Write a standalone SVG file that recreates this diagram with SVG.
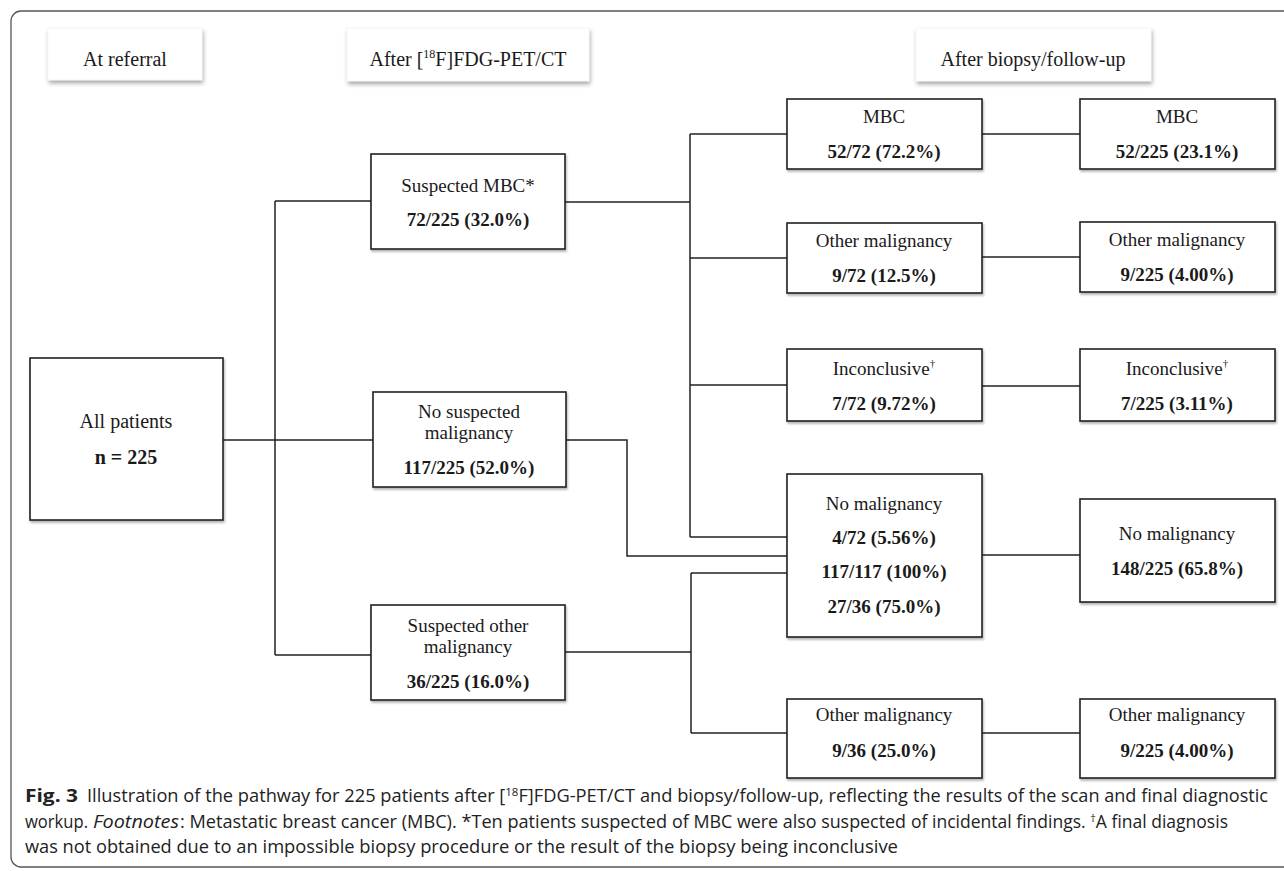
<svg xmlns="http://www.w3.org/2000/svg" width="1284" height="871" viewBox="0 0 1284 871">
<defs>
<filter id="hs" x="-10%" y="-20%" width="130%" height="170%"><feDropShadow dx="1" dy="3" stdDeviation="2" flood-color="#000" flood-opacity="0.35"/></filter>
<filter id="bs" x="-5%" y="-5%" width="115%" height="120%"><feDropShadow dx="1" dy="2" stdDeviation="1.2" flood-color="#000" flood-opacity="0.3"/></filter>
</defs>
<style>
.frame{fill:none;stroke:#555;stroke-width:1.3}
.hdr{fill:#fff;stroke:#eee;stroke-width:0.5;filter:url(#hs)}
.box{fill:#fff;stroke:#222;stroke-width:1.6;filter:url(#bs)}
.conn{fill:none;stroke:#222;stroke-width:1.5}
.t{font-family:"Liberation Serif","Times New Roman",serif;font-size:19px;fill:#1a1a1a;text-anchor:middle}
.h{font-size:20px}
.b{font-weight:bold}
.cap{font-family:"Open Sans","DejaVu Sans Condensed","Liberation Sans",sans-serif;font-size:17.5px;fill:#222}
</style>
<rect class="frame" x="11" y="11" width="1320" height="856" rx="10"/>

<g id="connectors">
<path class="conn" d="M223 440H373"/>
<path class="conn" d="M275 201V655M275 201H371M275 655H371"/>
<path class="conn" d="M565 202H690"/>
<path class="conn" d="M690 134V537M690 134H787M690 258H787M690 385H787M690 537H787"/>
<path class="conn" d="M566 440H627V556H787"/>
<path class="conn" d="M565 652H691M691 573V733M691 573H787M691 733H787"/>
<path class="conn" d="M982 134H1080M982 257H1080M982 386H1080M982 555H1080M982 733H1080"/>
</g>

<g id="hdr-referral"><rect class="hdr" x="48" y="28" width="154" height="52"/><text class="t h" x="125" y="66">At referral</text></g>
<g id="hdr-pet"><rect class="hdr" x="347" y="28" width="242" height="53"/><text class="t h" x="468" y="66">After [<tspan font-size="12" dy="-8">18</tspan><tspan dy="8">F]FDG-PET/CT</tspan></text></g>
<g id="hdr-biopsy"><rect class="hdr" x="916" y="28" width="235" height="53"/><text class="t h" x="1033" y="66">After biopsy/follow-up</text></g>

<g id="all"><rect class="box" x="30" y="358" width="193" height="162"/><text class="t h" x="126" y="428">All patients</text><text class="t h b" x="126" y="464">n = 225</text></g>

<g id="susp-mbc"><rect class="box" x="371" y="154" width="194" height="95"/><text class="t" x="468" y="192">Suspected MBC*</text><text class="t b" x="468" y="226">72/225 (32.0%)</text></g>
<g id="no-susp"><rect class="box" x="373" y="392" width="193" height="95"/><text class="t" x="469" y="418">No suspected</text><text class="t" x="469" y="439">malignancy</text><text class="t b" x="469" y="474">117/225 (52.0%)</text></g>
<g id="susp-other"><rect class="box" x="371" y="605" width="194" height="95"/><text class="t" x="468" y="632">Suspected other</text><text class="t" x="468" y="653">malignancy</text><text class="t b" x="468" y="688">36/225 (16.0%)</text></g>

<g id="mbc3"><rect class="box" x="787" y="99" width="195" height="70"/><text class="t" x="884" y="123">MBC</text><text class="t b" x="884" y="158">52/72 (72.2%)</text></g>
<g id="oth3"><rect class="box" x="787" y="223" width="195" height="70"/><text class="t" x="884" y="247">Other malignancy</text><text class="t b" x="884" y="282">9/72 (12.5%)</text></g>
<g id="inc3"><rect class="box" x="787" y="349" width="195" height="72"/><text class="t" x="884" y="375">Inconclusive<tspan font-size="11" dy="-8">†</tspan></text><text class="t b" x="884" y="410">7/72 (9.72%)</text></g>
<g id="nom3"><rect class="box" x="787" y="474" width="195" height="163"/><text class="t" x="884" y="510">No malignancy</text><text class="t b" x="884" y="544">4/72 (5.56%)</text><text class="t b" x="884" y="578">117/117 (100%)</text><text class="t b" x="884" y="613">27/36 (75.0%)</text></g>
<g id="oth3b"><rect class="box" x="787" y="699" width="195" height="79"/><text class="t" x="884" y="721">Other malignancy</text><text class="t b" x="884" y="757">9/36 (25.0%)</text></g>

<g id="mbc4"><rect class="box" x="1080" y="99" width="195" height="70"/><text class="t" x="1177" y="123">MBC</text><text class="t b" x="1177" y="158">52/225 (23.1%)</text></g>
<g id="oth4"><rect class="box" x="1080" y="222" width="195" height="70"/><text class="t" x="1177" y="246">Other malignancy</text><text class="t b" x="1177" y="281">9/225 (4.00%)</text></g>
<g id="inc4"><rect class="box" x="1080" y="349" width="195" height="72"/><text class="t" x="1177" y="375">Inconclusive<tspan font-size="11" dy="-8">†</tspan></text><text class="t b" x="1177" y="410">7/225 (3.11%)</text></g>
<g id="nom4"><rect class="box" x="1080" y="499" width="195" height="103"/><text class="t" x="1177" y="540">No malignancy</text><text class="t b" x="1177" y="575">148/225 (65.8%)</text></g>
<g id="oth4b"><rect class="box" x="1080" y="699" width="195" height="79"/><text class="t" x="1177" y="721">Other malignancy</text><text class="t b" x="1177" y="757">9/225 (4.00%)</text></g>

<g id="caption">
<text class="cap" x="25" y="802" font-weight="bold" textLength="53" lengthAdjust="spacingAndGlyphs">Fig. 3</text>
<text class="cap" x="87" y="802" textLength="548" lengthAdjust="spacingAndGlyphs">Illustration of the pathway for 225 patients after [<tspan font-size="11" dy="-6">18</tspan><tspan dy="6">F]FDG-PET/CT</tspan></text>
<text class="cap" x="640" y="802" textLength="268" lengthAdjust="spacingAndGlyphs">and biopsy/follow-up, reflecting</text>
<text class="cap" x="913" y="802" textLength="355" lengthAdjust="spacingAndGlyphs">the results of the scan and final diagnostic</text>

<text class="cap" x="25" y="828" textLength="63" lengthAdjust="spacingAndGlyphs">workup.</text>
<text class="cap" x="93" y="828" font-style="italic" textLength="86" lengthAdjust="spacingAndGlyphs">Footnotes</text>
<text class="cap" x="180" y="828" textLength="487" lengthAdjust="spacingAndGlyphs">: Metastatic breast cancer (MBC). *Ten patients suspected</text>
<text class="cap" x="672" y="828" textLength="234" lengthAdjust="spacingAndGlyphs">of MBC were also suspected</text>
<text class="cap" x="911" y="828" textLength="317" lengthAdjust="spacingAndGlyphs">of incidental findings. <tspan font-size="11" dy="-6">†</tspan><tspan dy="6">A final diagnosis</tspan></text>

<text class="cap" x="25" y="853" textLength="184" lengthAdjust="spacingAndGlyphs">was not obtained due</text>
<text class="cap" x="214" y="853" textLength="427" lengthAdjust="spacingAndGlyphs">to an impossible biopsy procedure or the result of</text>
<text class="cap" x="646" y="853" textLength="252" lengthAdjust="spacingAndGlyphs">the biopsy being inconclusive</text>
</g>
</svg>
